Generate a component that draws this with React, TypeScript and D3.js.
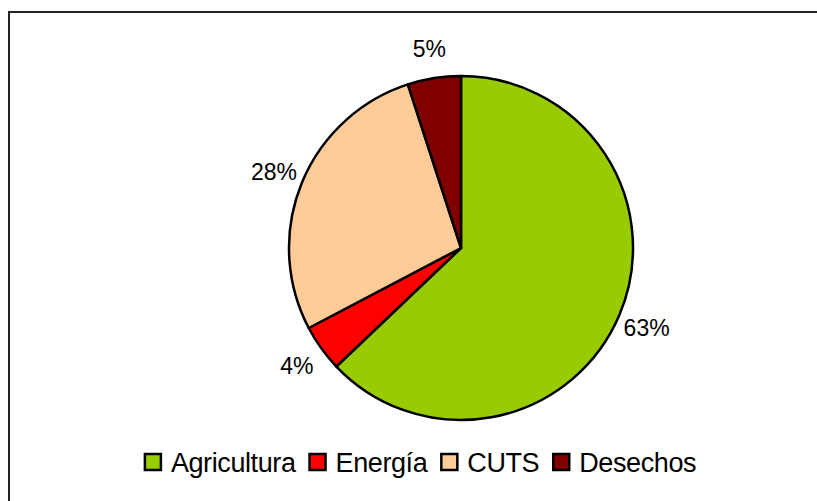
import React, { useEffect, useRef } from 'react';
import * as d3 from 'd3';

// emission shares by sector (percent)
const categories = ['Agricultura', 'Energía', 'CUTS', 'Desechos'];
const shares = [62.9, 4.4, 27.7, 5.0];
const labels = ['63%', '4%', '28%', '5%'];
const colors = ['#99CC00', '#FF0000', '#FFCC99', '#800000'];

const W = 817;
const H = 501;

const App: React.FC = () => {
  const ref = useRef<SVGSVGElement>(null);

  useEffect(() => {
    const svg = d3.select(ref.current);
    svg.selectAll('*').remove();

    // outer frame (runs off the right and bottom edges)
    svg.append('rect')
      .attr('x', 9)
      .attr('y', 12)
      .attr('width', W)
      .attr('height', H)
      .attr('fill', 'none')
      .attr('stroke', '#222')
      .attr('stroke-width', 2);

    const cx = 461;
    const cy = 248;
    const radius = 172;

    const data = categories.map((c, i) => ({ name: c, value: shares[i], label: labels[i], color: colors[i] }));

    const pie = d3.pie<typeof data[0]>()
      .value(d => d.value)
      .sort(null);
    const arcs = pie(data);

    const arc = d3.arc<d3.PieArcDatum<typeof data[0]>>()
      .innerRadius(0)
      .outerRadius(radius);
    const labelArc = d3.arc<d3.PieArcDatum<typeof data[0]>>()
      .innerRadius(202)
      .outerRadius(202);

    const g = svg.append('g').attr('transform', `translate(${cx},${cy})`);

    g.selectAll('path')
      .data(arcs)
      .enter()
      .append('path')
      .attr('d', arc)
      .attr('fill', d => d.data.color)
      .attr('stroke', '#000')
      .attr('stroke-width', 2.5)
      .attr('stroke-linejoin', 'round');

    g.selectAll('text.lbl')
      .data(arcs)
      .enter()
      .append('text')
      .attr('class', 'lbl')
      .attr('transform', d => `translate(${labelArc.centroid(d)})`)
      .attr('text-anchor', 'middle')
      .attr('dy', '0.36em')
      .attr('font-family', 'Arial, "Liberation Sans", sans-serif')
      .attr('font-size', 23)
      .attr('fill', '#000')
      .text(d => d.data.label);

    // legend, centred under the pie
    const legend = svg.append('g');
    const box = 16;
    const textGap = 10;
    const itemGap = 14;
    let x = 0;
    data.forEach(d => {
      const item = legend.append('g').attr('transform', `translate(${x},0)`);
      item.append('rect')
        .attr('x', 0)
        .attr('y', -box / 2)
        .attr('width', box)
        .attr('height', box)
        .attr('fill', d.color)
        .attr('stroke', '#000')
        .attr('stroke-width', 2.5);
      const t = item.append('text')
        .attr('x', box + textGap)
        .attr('y', 0)
        .attr('dy', '0.36em')
        .attr('font-family', 'Arial, "Liberation Sans", sans-serif')
        .attr('font-size', 27)
        .attr('letter-spacing', -0.4)
        .attr('fill', '#000')
        .text(d.name);
      const tw = (t.node() as SVGTextElement).getComputedTextLength();
      x += box + textGap + tw + itemGap;
    });
    const total = x - itemGap;
    legend.attr('transform', `translate(${420.5 - total / 2},${462})`);
  }, []);

  return (
    <svg
      ref={ref}
      width={W}
      height={H}
      style={{ position: 'absolute', left: 0, top: 0, background: '#fff' }}
    />
  );
};

export default App;
